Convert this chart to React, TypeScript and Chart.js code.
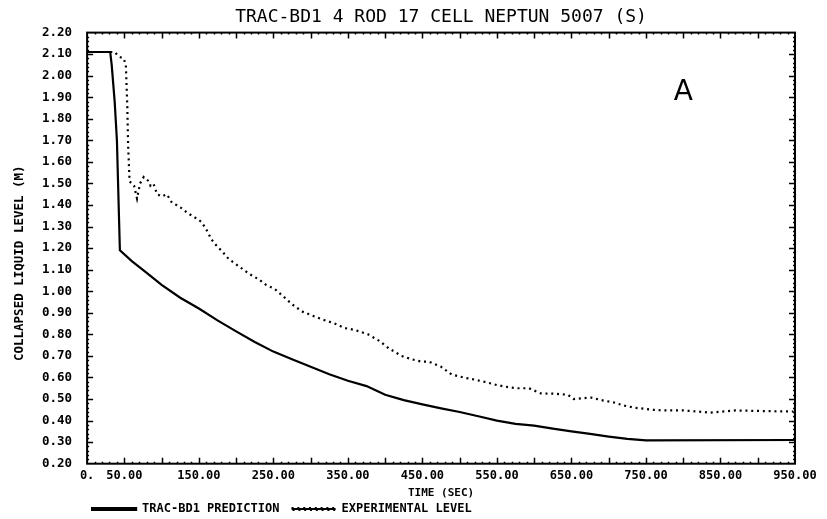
import React, { useEffect, useRef } from "react";
import { Chart, registerables } from "chart.js";

Chart.register(...registerables);

const TITLE = "TRAC-BD1 4 ROD 17 CELL NEPTUN 5007 (S)";
const X_TITLE = "TIME (SEC)";
const Y_TITLE = "COLLAPSED LIQUID LEVEL (M)    ";
const SERIES_NAMES = ["TRAC-BD1 PREDICTION", "EXPERIMENTAL LEVEL"];
const X_TICKS = [0, 50, 150, 250, 350, 450, 550, 650, 750, 850, 950];
const PANEL_LABEL = "A";
const PANEL_AT = { x: 800, y: 1.92 };

const predTime = [0, 31, 33, 37, 40, 44, 60, 80, 100, 125, 150, 175, 200, 225, 250, 275, 300, 325, 350, 375, 400, 425, 450, 475, 500, 525, 550, 575, 600, 625, 650, 675, 700, 725, 750, 950];
const predLevel = [2.11, 2.11, 2.05, 1.88, 1.70, 1.19, 1.14, 1.085, 1.03, 0.97, 0.92, 0.865, 0.814, 0.765, 0.72, 0.685, 0.65, 0.615, 0.585, 0.56, 0.52, 0.495, 0.475, 0.457, 0.44, 0.42, 0.40, 0.385, 0.377, 0.363, 0.35, 0.338, 0.326, 0.315, 0.308, 0.31];

const expTime = [0, 37, 42, 49, 52, 54, 55, 57, 63, 67, 71, 76, 83, 85, 89, 94, 100, 107, 114, 120, 127, 134, 141, 148, 154, 161, 167, 174, 181, 190, 200, 207, 218, 230, 240, 252, 262, 275, 288, 300, 315, 332, 345, 360, 377, 392, 405, 422, 435, 448, 458, 475, 489, 505, 520, 533, 550, 565, 578, 593, 609, 625, 645, 653, 676, 690, 707, 720, 734, 760, 775, 800, 837, 870, 910, 948];
const expLevel = [2.11, 2.11, 2.09, 2.08, 2.05, 1.85, 1.68, 1.51, 1.49, 1.43, 1.50, 1.53, 1.51, 1.49, 1.50, 1.45, 1.44, 1.45, 1.41, 1.40, 1.385, 1.365, 1.35, 1.335, 1.32, 1.28, 1.24, 1.21, 1.186, 1.15, 1.125, 1.107, 1.08, 1.056, 1.03, 1.01, 0.98, 0.94, 0.907, 0.89, 0.87, 0.851, 0.83, 0.82, 0.80, 0.77, 0.735, 0.70, 0.685, 0.674, 0.674, 0.65, 0.614, 0.60, 0.59, 0.58, 0.565, 0.555, 0.55, 0.55, 0.526, 0.525, 0.52, 0.50, 0.507, 0.495, 0.484, 0.47, 0.46, 0.45, 0.447, 0.447, 0.437, 0.447, 0.444, 0.442];

const MONO = "'DejaVu Sans Mono', monospace";

const framePlugin = {
  id: "frameTicks",
  afterDraw(chart: any) {
    const { ctx, chartArea: a, scales } = chart;
    const xs = scales.x;
    const ys = scales.y;
    ctx.save();
    ctx.strokeStyle = "#000";
    ctx.lineWidth = 2;
    ctx.strokeRect(a.left, a.top, a.right - a.left, a.bottom - a.top);
    ctx.lineWidth = 1.5;
    ctx.beginPath();
    for (let v = 10; v < 950; v += 10) {
      const px = Math.round(xs.getPixelForValue(v)) + 0.5;
      const len = v % 50 === 0 ? 6 : 2;
      ctx.moveTo(px, a.bottom);
      ctx.lineTo(px, a.bottom - len);
      ctx.moveTo(px, a.top);
      ctx.lineTo(px, a.top + len);
    }
    for (let i = 1; i < 100; i++) {
      const v = 0.2 + i * 0.02;
      const py = Math.round(ys.getPixelForValue(v)) + 0.5;
      const len = i % 5 === 0 ? 6 : 2;
      ctx.moveTo(a.left, py);
      ctx.lineTo(a.left + len, py);
      ctx.moveTo(a.right, py);
      ctx.lineTo(a.right - len, py);
    }
    ctx.stroke();
    ctx.fillStyle = "#000";
    ctx.font = "28px 'DejaVu Sans', sans-serif";
    ctx.textAlign = "center";
    ctx.textBaseline = "middle";
    ctx.fillText(PANEL_LABEL, xs.getPixelForValue(PANEL_AT.x), ys.getPixelForValue(PANEL_AT.y));
    ctx.restore();
  },
};

export default function App() {
  const ref = useRef<HTMLCanvasElement | null>(null);
  useEffect(() => {
    if (!ref.current) return;
    const chart = new Chart(ref.current, {
      type: "line",
      data: {
        datasets: [
          {
            label: SERIES_NAMES[0],
            data: predTime.map((t, i) => ({ x: t, y: predLevel[i] })),
            borderColor: "#000",
            backgroundColor: "#000",
            borderWidth: 2.2,
            pointRadius: 0,
            tension: 0,
          },
          {
            label: SERIES_NAMES[1],
            data: expTime.map((t, i) => ({ x: t, y: expLevel[i] })),
            borderColor: "#000",
            backgroundColor: "#000",
            borderWidth: 2.2,
            borderDash: [2, 3.8],
            pointRadius: 0,
            tension: 0,
          },
        ],
      },
      options: {
        responsive: false,
        animation: false,
        devicePixelRatio: 1,
        layout: { padding: { left: 0, right: 32, top: 0, bottom: 0 } },
        plugins: {
          title: {
            display: true,
            text: TITLE,
            fullSize: false,
            color: "#000",
            font: { family: MONO, size: 18, weight: "normal" },
            padding: { top: 7, bottom: 4 },
          },
          legend: {
            display: true,
            position: "bottom",
            align: "start",
            fullSize: false,
            maxHeight: 21,
            labels: {
              color: "#000",
              font: { family: MONO, size: 12, weight: "bold" },
              boxWidth: 44,
              boxHeight: 2,
              padding: 5,
              generateLabels: (chart: any) => {
                const items = Chart.defaults.plugins.legend.labels.generateLabels(chart);
                return items.map((it: any, i: number) => ({ ...it, text: i === 0 ? it.text + " " : it.text }));
              },
            },
          },
          tooltip: { enabled: false },
        },
        scales: {
          x: {
            type: "linear",
            min: 0,
            max: 950,
            grid: { display: false, drawTicks: false },
            border: { display: false },
            afterBuildTicks: (axis: any) => {
              axis.ticks = X_TICKS.map((v) => ({ value: v }));
            },
            ticks: {
              autoSkip: false,
              maxRotation: 0,
              padding: 5,
              color: "#000",
              font: { family: MONO, size: 12, weight: "bold" },
              callback: (v: any) => (Number(v) === 0 ? "0." : Number(v).toFixed(2)),
            },
            title: {
              display: true,
              text: X_TITLE,
              color: "#000",
              font: { family: MONO, size: 11, weight: "bold", lineHeight: 0.9 },
              padding: { top: 0, bottom: 0 },
            },
          },
          y: {
            type: "linear",
            min: 0.2,
            max: 2.2,
            grid: { display: false, drawTicks: false },
            border: { display: false },
            ticks: {
              stepSize: 0.1,
              autoSkip: false,
              padding: 15,
              color: "#000",
              font: { family: MONO, size: 12.5, weight: "bold" },
              callback: (v: any) => Number(v).toFixed(2),
            },
            title: {
              display: true,
              text: Y_TITLE,
              color: "#000",
              font: { family: MONO, size: 12.5, weight: "bold" },
              padding: { top: 12, bottom: 0 },
            },
          },
        },
      },
      plugins: [framePlugin],
    } as any);
    return () => chart.destroy();
  }, []);
  return (
    <div style={{ position: "fixed", left: 0, top: 0, width: 827, height: 519, background: "#fff" }}>
      <canvas ref={ref} width={827} height={519} style={{ width: 827, height: 519 }} />
    </div>
  );
}
